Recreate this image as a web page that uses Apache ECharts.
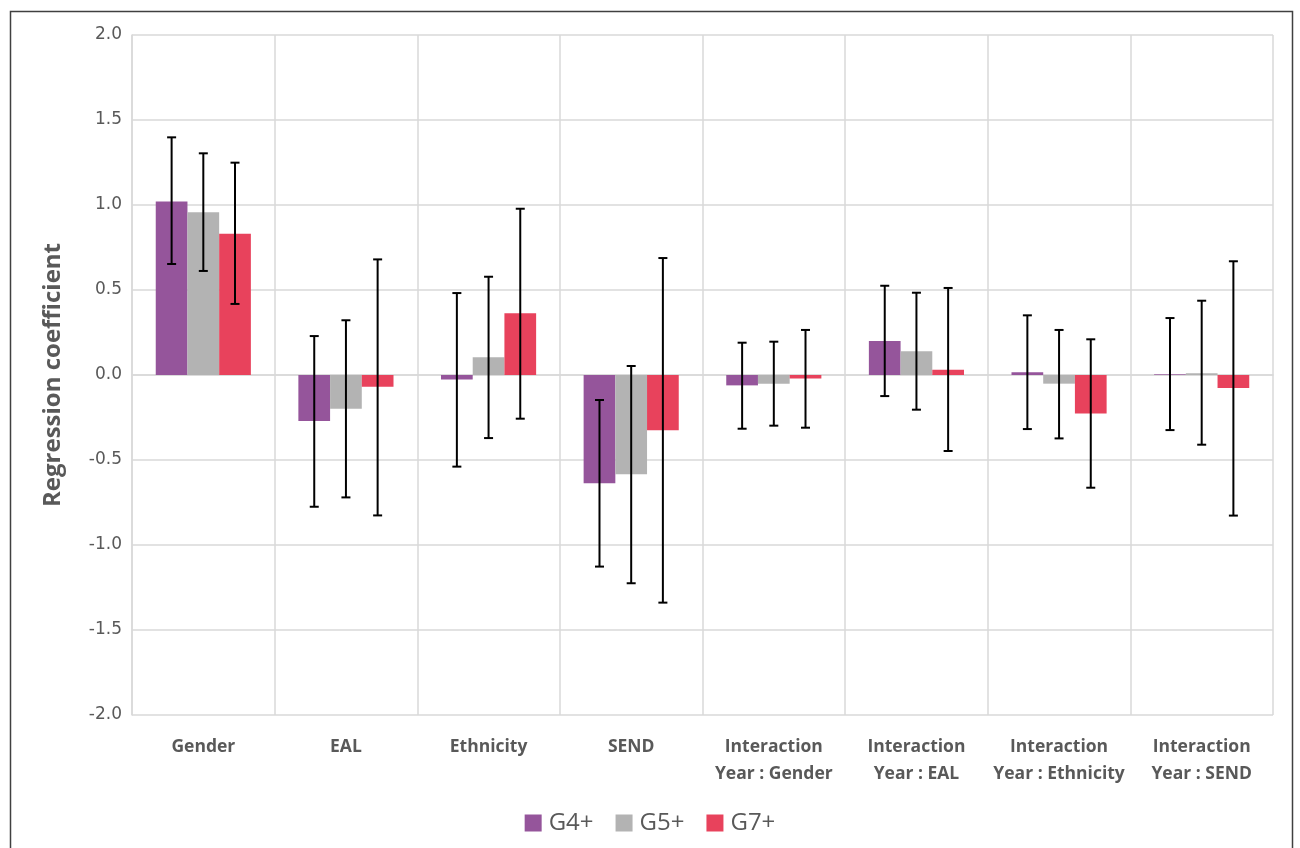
<!DOCTYPE html>
<html>
<head>
<meta charset="utf-8">
<script src="https://cdn.jsdelivr.net/npm/echarts@6/dist/echarts.min.js"></script>
<style>
html,body{margin:0;padding:0;background:#fff;}
#chart{width:1300px;height:848px;}
</style>
</head>
<body>
<div id="chart"></div>
<script>
const categories = ['Gender', 'EAL', 'Ethnicity', 'SEND', 'Interaction\nYear : Gender', 'Interaction\nYear : EAL', 'Interaction\nYear : Ethnicity', 'Interaction\nYear : SEND'];
const seriesNames = ['G4+', 'G5+', 'G7+'];
const g4 = [1.02, -0.27, -0.026, -0.637, -0.061, 0.200, 0.016, 0.004];
const g5 = [0.958, -0.198, 0.104, -0.584, -0.051, 0.139, -0.051, 0.010];
const g7 = [0.831, -0.069, 0.363, -0.325, -0.020, 0.031, -0.226, -0.076];
const g4Lo = [0.653, -0.775, -0.539, -1.127, -0.316, -0.124, -0.318, -0.324];
const g4Hi = [1.398, 0.229, 0.482, -0.147, 0.190, 0.525, 0.351, 0.335];
const g5Lo = [0.612, -0.720, -0.371, -1.225, -0.298, -0.204, -0.373, -0.410];
const g5Hi = [1.304, 0.322, 0.578, 0.053, 0.196, 0.484, 0.265, 0.437];
const g7Lo = [0.418, -0.826, -0.257, -1.339, -0.310, -0.447, -0.663, -0.827];
const g7Hi = [1.249, 0.680, 0.978, 0.688, 0.265, 0.512, 0.210, 0.669];
const yTicks = ['-2.0', '-1.5', '-1.0', '-0.5', '0.0', '0.5', '1.0', '1.5', '2.0'];

const colors = ['#95559b', '#b3b3b3', '#e8425c'];
const values = [g4, g5, g7];
const los = [g4Lo, g5Lo, g7Lo];
const his = [g4Hi, g5Hi, g7Hi];
const catGap = 1 / 3;

const chart = echarts.init(document.getElementById('chart'));

const barSeries = seriesNames.map((n, i) => ({
  name: n,
  type: 'bar',
  data: values[i],
  barGap: '0%',
  barCategoryGap: '33.3%',
  itemStyle: { color: colors[i] },
  z: 2
}));

const errSeries = seriesNames.map((n, i) => ({
  type: 'custom',
  name: n + ' err',
  data: categories.map((c, k) => [k, los[i][k], his[i][k]]),
  z: 5,
  silent: true,
  renderItem: function (params, api) {
    const k = api.value(0);
    const lo = api.coord([k, api.value(1)]);
    const hi = api.coord([k, api.value(2)]);
    const bandW = api.size([1, 0])[0];
    const bw = bandW * (1 - catGap) / 3;
    const x = lo[0] + (i - 1) * bw;
    const cap = 4.5;
    const st = { stroke: '#000', lineWidth: 2 };
    return {
      type: 'group',
      children: [
        { type: 'line', shape: { x1: x, y1: lo[1], x2: x, y2: hi[1] }, style: st },
        { type: 'line', shape: { x1: x - cap, y1: lo[1], x2: x + cap, y2: lo[1] }, style: st },
        { type: 'line', shape: { x1: x - cap, y1: hi[1], x2: x + cap, y2: hi[1] }, style: st }
      ]
    };
  }
}));

chart.setOption({
  animation: false,
  backgroundColor: '#fff',
  graphic: [{
    type: 'rect',
    shape: { x: 10.5, y: 11.5, width: 1282, height: 860 },
    style: { fill: 'none', stroke: '#404040', lineWidth: 1.5 },
    z: 100
  }],
  legend: {
    data: seriesNames,
    bottom: 8,
    left: 'center',
    itemWidth: 17,
    itemHeight: 17,
    itemGap: 22,
    icon: 'rect',
    textStyle: { fontFamily: 'Open Sans', fontSize: 24, color: '#595959', padding: [0, 0, 0, 2] }
  },
  grid: { left: 132, right: 27, top: 35, bottom: 133 },
  xAxis: {
    type: 'category',
    data: categories,
    axisTick: { show: false },
    axisLine: { onZero: true, lineStyle: { color: '#d9d9d9', width: 1.5 } },
    splitLine: { show: true, interval: 0, lineStyle: { color: '#d9d9d9', width: 1.5 } },
    axisLabel: {
      interval: 0,
      margin: 0,
      fontFamily: 'Open Sans',
      fontWeight: 'bold',
      fontSize: 17.5,
      color: '#595959',
      lineHeight: 27,
      verticalAlign: 'top',
      padding: [19, 0, 0, 0]
    },
    position: 'bottom'
  },
  yAxis: {
    type: 'value',
    min: -2,
    max: 2,
    interval: 0.5,
    name: 'Regression coefficient',
    nameLocation: 'middle',
    nameGap: 67,
    nameTextStyle: { fontFamily: 'Open Sans', fontWeight: 'bold', fontSize: 24, color: '#595959' },
    axisLine: { show: true, lineStyle: { color: '#d9d9d9', width: 1.5 } },
    axisTick: { show: false },
    splitLine: { lineStyle: { color: '#d9d9d9', width: 1.5 } },
    axisLabel: {
      margin: 10,
      fontFamily: 'DejaVu Sans',
      fontSize: 17,
      color: '#595959',
      formatter: function (v) { return yTicks[Math.round((v + 2) / 0.5)]; }
    }
  },
  series: barSeries.concat(errSeries)
});
</script>
</body>
</html>
